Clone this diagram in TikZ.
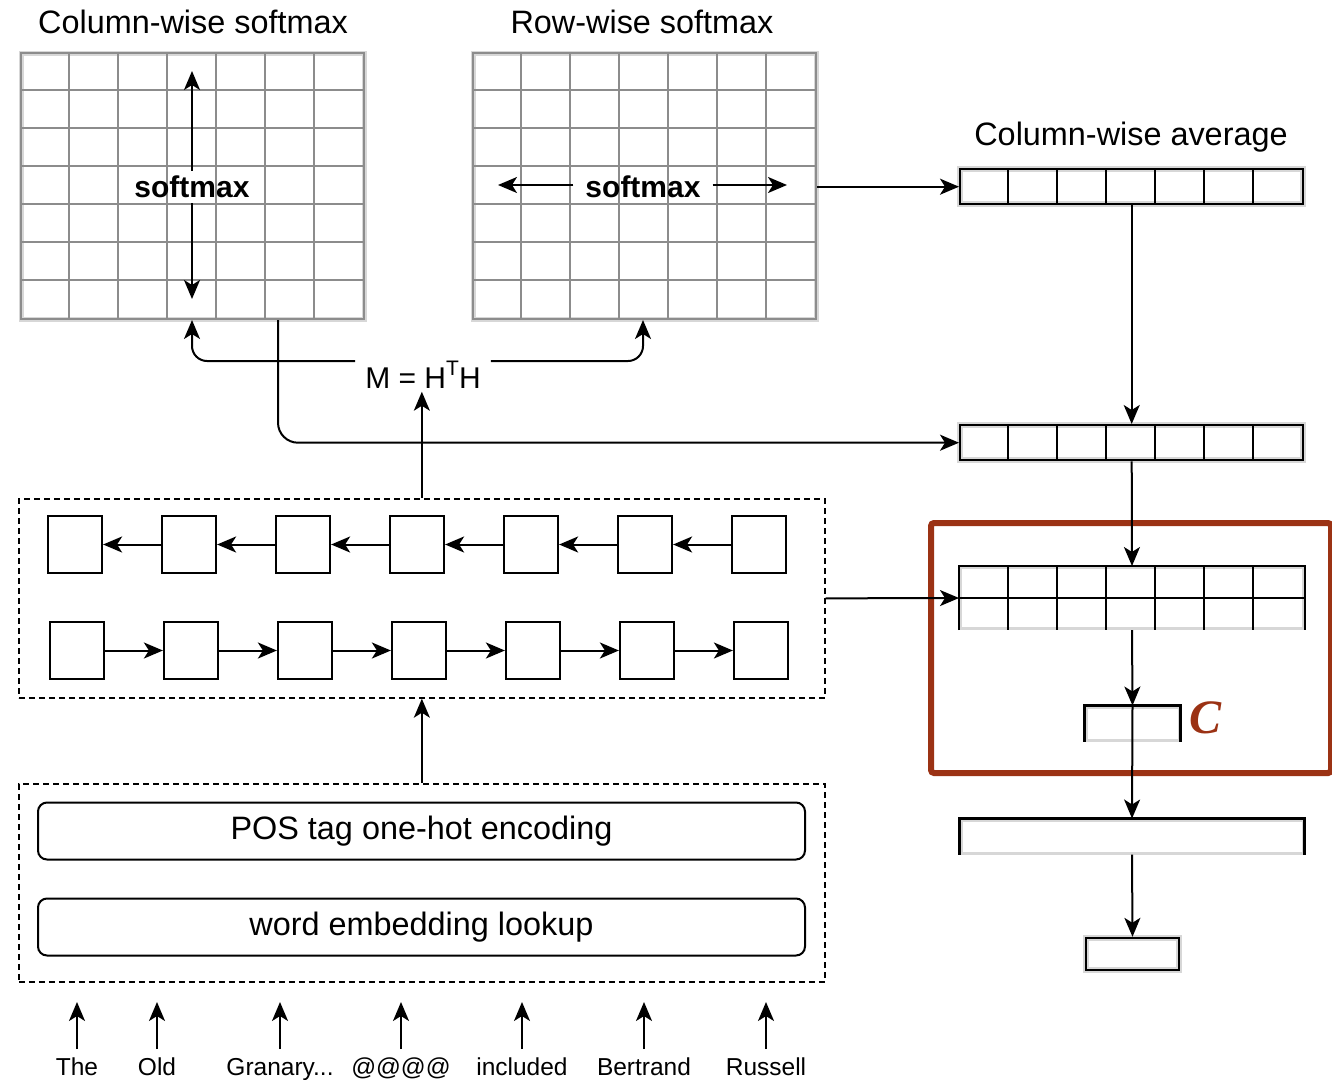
\documentclass[tikz,border=0pt]{standalone}
\usepackage{fontspec}
\setmainfont{Liberation Sans}
\newfontfamily\cfont{Liberation Serif}
\usetikzlibrary{arrows.meta,calc}
\definecolor{gridgray}{RGB}{140,140,140}
\definecolor{halo}{RGB}{215,215,215}
\definecolor{redbox}{RGB}{155,50,20}
\newcommand\granlbl{Granary...}
\begin{document}
\begin{tikzpicture}[x=1pt,y=-1pt,
  arr/.style={draw=black, line width=2pt, -{Stealth[length=19pt,width=16pt,inset=5pt]}},
  grd/.style={draw=gridgray, line width=2pt, preaction={draw=halo,line width=5pt}, inner sep=0pt, anchor=north west},
  gline/.style={draw=gridgray, line width=2pt},
  vec/.style={draw=black, line width=2.4pt, preaction={draw=halo,line width=5.5pt}, inner sep=0pt},
  openbox/.style={draw=halo, line width=3pt, inner sep=0pt},
  vline/.style={draw=black, line width=2.4pt},
  cell/.style={draw=black, line width=2.2pt, inner sep=0pt, minimum width=54pt, minimum height=57pt},
  dbox/.style={draw=black, dash pattern=on 6pt off 4pt, line width=1.7pt, inner sep=0pt, anchor=north west},
  rbox/.style={draw=black, rounded corners=9pt, line width=2pt, minimum width=767pt, minimum height=57pt, inner sep=0pt, font=\fontsize{32.4}{36}\selectfont},
  lbl/.style={font=\fontsize{32.4}{36}\selectfont, inner sep=0pt},
  wlbl/.style={font=\fontsize{24.5}{28}\selectfont, inner sep=0pt, anchor=base},
  smx/.style={font=\bfseries\fontsize{30}{34}\selectfont, inner sep=5pt},
  hl/.style={draw=redbox, line width=6pt, rounded corners=3pt, inner sep=0pt, anchor=north west}
]
\useasboundingbox (0,0) rectangle (1332,1079);

% titles
\node[lbl] (t1) at (193,22) {Column-wise softmax};
\node[lbl] (t2) at (642,22) {Row-wise softmax};
\node[lbl] (t3) at (1131,137) {Column-wise average};

% grids
\node[grd, minimum width=343pt, minimum height=266pt] (g1) at (20,52) {};
\node[grd, minimum width=343pt, minimum height=266pt] (g2) at (472,52) {};
\foreach \g in {g1,g2}{
  \foreach \i in {1,...,6}{
    \draw[gline] ($(\g.north west)+(\i*49,0)$) -- ($(\g.south west)+(\i*49,0)$);
    \draw[gline] ($(\g.north west)+(0,\i*38)$) -- ($(\g.north east)+(0,\i*38)$);
  }
}
% softmax labels
\node[smx] (s1) at (192,187) {softmax};
\coordinate (s1t) at (192,71);
\coordinate (s1b) at (192,299);
\draw[arr] (s1.north) -- (s1t);
\draw[arr] (s1.south) -- (s1b);
\node[smx, inner xsep=12pt] (s2) at (643,187) {softmax};
\coordinate (s2l) at (498,185);
\coordinate (s2r) at (787,185);
\draw[arr] (s2.west |- s2l) -- (s2l);
\draw[arr] (s2.east |- s2r) -- (s2r);

% vectors
\node[vec, anchor=north west, minimum width=343pt, minimum height=35pt] (v1) at (959,168) {};
\node[vec, anchor=north west, minimum width=343pt, minimum height=35pt] (v2) at (959,424) {};
\foreach \v in {v1,v2}{
  \foreach \i in {1,...,6}{
    \draw[vline] ($(\v.north west)+(\i*49,0)$) -- ($(\v.south west)+(\i*49,0)$);
  }
}
\draw[arr] (g2.east |- v1.west) -- (v1.west);
\draw[arr] (v1.south) -- (v2.north);
\draw[arr, rounded corners=20pt] ($(g1.south west)+(258,0)$) |- (v2.west);

% M = H^T H
\node[lbl, font=\fontsize{30}{34}\selectfont, inner xsep=10pt, inner ysep=3pt] (M) at (423,375) {M = H\raisebox{0.42em}{\fontsize{21}{21}\selectfont T}H};
\draw[arr, rounded corners=15pt] ([yshift=14pt]M.west) -| ($(g1.south west)+(172,0)$);
\draw[arr, rounded corners=15pt] ([yshift=14pt]M.east) -| ($(g2.south west)+(171,0)$);

% BiLSTM box
\node[dbox, minimum width=806pt, minimum height=199pt] (b1) at (18,498) {};
\foreach \i [count=\k] in {0,...,6}{
  \node[cell] (tp\k) at (75+\i*114,544.5) {};
  \node[cell] (bt\k) at (77+\i*114,650.5) {};
}
\foreach \k [evaluate=\k as \n using int(\k+1)] in {1,...,6}{
  \draw[arr] (tp\n) -- (tp\k);
  \draw[arr] (bt\k) -- (bt\n);
}
\draw[arr] (b1.north) -- (b1.north |- M.south);

% input box
\node[dbox, minimum width=806pt, minimum height=198pt] (b2) at (18,783) {};
\node[rbox] (pos) at (421.5,831) {POS tag one-hot encoding};
\node[rbox] (emb) at (421.5,927) {word embedding lookup};
\draw[arr] (b2.north) -- (b1.south);

% words
\foreach \w/\x [count=\k] in {The/77,Old/157,\granlbl/280,@@@@/401,included/522,Bertrand/644,Russell/766}{
  \node[wlbl] (w\k) at (\x,1075) {\w};
  \draw[arr] ($(w\k.base)+(0,-26)$) -- ++(0,-47);
}

% highlighted region
\node[hl, minimum width=400pt, minimum height=250pt] (hl) at (928,520) {};
\node[openbox, anchor=north west, minimum width=343pt, minimum height=61pt] (m3) at (959,566) {};
\draw[vline] (m3.south west) |- (m3.north east) -- (m3.south east);
\draw[vline] (m3.west) -- (m3.east);
\foreach \i in {1,...,6}{
  \draw[vline] ($(m3.north west)+(\i*49,0)$) -- ($(m3.south west)+(\i*49,0)$);
}
\draw[arr] (b1.east) -- (m3.west);
\draw[arr] (v2.south) -- (m3.north);

\node[openbox, minimum width=93pt, minimum height=33pt] (cb) at (1132.5,723.5) {};
\draw[vline] (cb.south west) |- (cb.north east) -- (cb.south east);
\node[text=redbox, font=\cfont\bfseries\itshape\fontsize{48}{48}\selectfont, inner sep=0pt] (clab) at (1205,718) {C};
\draw[arr] (m3.south) -- (cb.north);

% output boxes
\node[openbox, minimum width=342pt, minimum height=33pt] (wd) at (1132,836.5) {};
\draw[vline] (wd.south west) |- (wd.north east) -- (wd.south east);
\node[vec, minimum width=93pt, minimum height=32pt] (sm) at (1132.5,954) {};
\draw[arr] (cb.north) -- (wd.north);
\draw[arr] (wd.south) -- (sm.north);
\end{tikzpicture}
\end{document}
